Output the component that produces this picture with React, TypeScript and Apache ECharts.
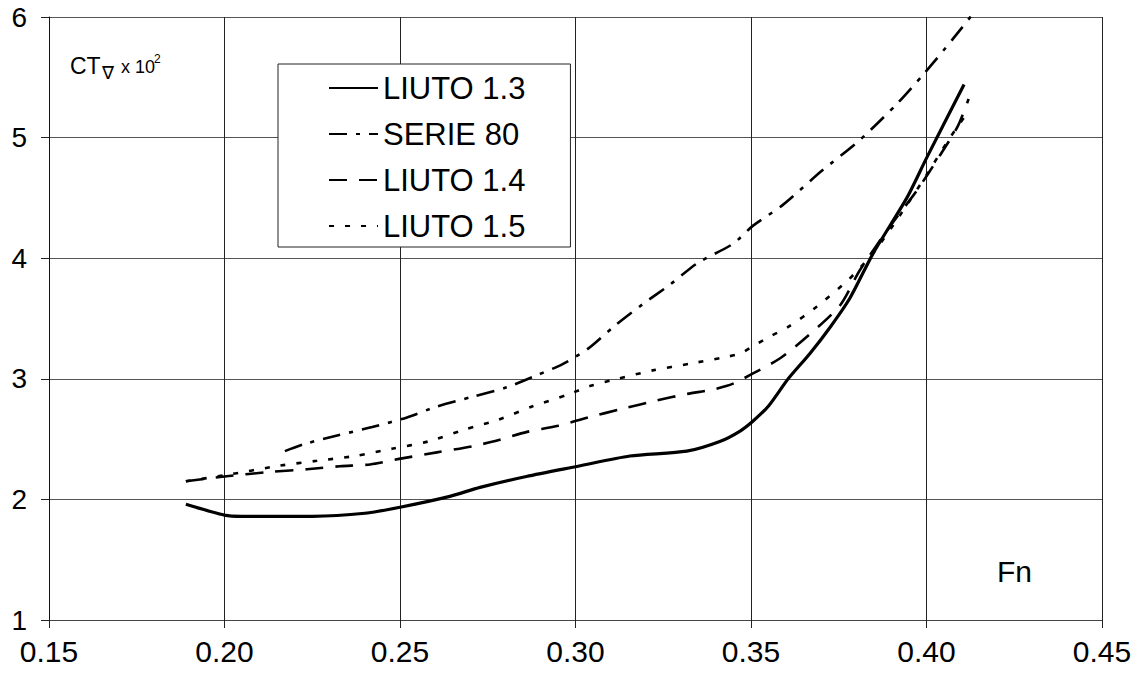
import React, { useEffect, useRef } from "react";
import * as echarts from "echarts";

const xTicks = [0.15, 0.2, 0.25, 0.3, 0.35, 0.4, 0.45];
const yTicks = [1, 2, 3, 4, 5, 6];

const liuto13: [number, number][] = [
  [0.189, 1.96], [0.2, 1.87], [0.205, 1.86], [0.225, 1.86], [0.24, 1.885], [0.25, 1.935],
  [0.2642, 2.025], [0.2728, 2.1], [0.286, 2.19], [0.3007, 2.275], [0.3155, 2.36], [0.3317, 2.4],
  [0.3411, 2.48], [0.3469, 2.567], [0.3506, 2.65], [0.355, 2.775], [0.3606, 3.0], [0.3668, 3.21],
  [0.3726, 3.43], [0.3782, 3.67], [0.3848, 4.04], [0.3944, 4.5], [0.4, 4.83], [0.4107, 5.44],
];

const serie80: [number, number][] = [
  [0.2172, 2.4], [0.2229, 2.46], [0.2321, 2.53], [0.2421, 2.6], [0.252, 2.68], [0.2605, 2.77],
  [0.2705, 2.85], [0.2805, 2.93], [0.289, 3.03], [0.2962, 3.12], [0.3036, 3.25], [0.3112, 3.44],
  [0.3192, 3.62], [0.3269, 3.78], [0.3348, 3.96], [0.3449, 4.12], [0.3506, 4.27], [0.359, 4.44],
  [0.37, 4.72], [0.381, 4.98], [0.3916, 5.28], [0.399, 5.52], [0.4073, 5.81], [0.4144, 6.07],
];

const liuto14: [number, number][] = [
  [0.189, 2.15], [0.2, 2.19], [0.2138, 2.23], [0.2235, 2.25], [0.2329, 2.275], [0.2415, 2.29],
  [0.2506, 2.34], [0.2605, 2.39], [0.2705, 2.44], [0.2765, 2.48], [0.2862, 2.56], [0.295, 2.61],
  [0.3036, 2.68], [0.3132, 2.75], [0.3231, 2.82], [0.3319, 2.875], [0.339, 2.91], [0.3449, 2.96],
  [0.3503, 3.04], [0.3583, 3.17], [0.366, 3.35], [0.3754, 3.61], [0.381, 3.9], [0.39, 4.28],
  [0.397, 4.55], [0.404, 4.86], [0.409, 5.1], [0.412, 5.32],
];

const liuto15: [number, number][] = [
  [0.189, 2.15], [0.2, 2.2], [0.2158, 2.28], [0.2263, 2.32], [0.2372, 2.36], [0.2477, 2.42],
  [0.258, 2.48], [0.2685, 2.58], [0.278, 2.66], [0.2876, 2.77], [0.2979, 2.87], [0.3041, 2.94],
  [0.3121, 3.0], [0.322, 3.07], [0.3326, 3.125], [0.3426, 3.18], [0.347, 3.21], [0.3511, 3.28],
  [0.356, 3.36], [0.3606, 3.43], [0.3688, 3.6], [0.3777, 3.82], [0.385, 4.05], [0.393, 4.38],
  [0.4, 4.69], [0.4067, 5.0], [0.412, 5.22],
];

const seriesNames = ["LIUTO 1.3", "SERIE 80", "LIUTO 1.4", "LIUTO 1.5"];

const FONT = "'Liberation Sans', Arial, Helvetica, sans-serif";

export default function App() {
  const ref = useRef<HTMLDivElement>(null);

  useEffect(() => {
    document.body.style.margin = "0";
    if (!ref.current) return;
    const chart = echarts.init(ref.current, undefined, { renderer: "svg" });

    const mk = (name: string, data: [number, number][], type: any, width: number) => ({
      name,
      type: "line",
      data,
      showSymbol: false,
      symbol: "none",
      smooth: 0.25,
      clip: true,
      lineStyle: { color: "#000", width, type, cap: "butt" },
      itemStyle: { color: "#000" },
      z: 3,
    });

    chart.setOption({
      animation: false,
      backgroundColor: "#fff",
      grid: { left: 49, right: 40, top: 17, bottom: 65, containLabel: false },
      xAxis: {
        type: "value",
        min: xTicks[0],
        max: xTicks[xTicks.length - 1],
        interval: 0.05,
        axisLine: { show: true, lineStyle: { color: "#444", width: 1 } },
        axisTick: { show: true, length: 8, lineStyle: { color: "#222" } },
        axisLabel: {
          color: "#000",
          fontSize: 30,
          fontFamily: FONT,
          margin: 16,
          formatter: (v: number) => v.toFixed(2),
        },
        splitLine: { show: true, lineStyle: { color: "#222", width: 1 } },
      },
      yAxis: {
        type: "value",
        min: yTicks[0],
        max: yTicks[yTicks.length - 1],
        interval: 1,
        axisLine: { show: true, lineStyle: { color: "#111", width: 1 } },
        axisTick: { show: true, length: 8, lineStyle: { color: "#222" } },
        axisLabel: { color: "#000", fontSize: 28, fontFamily: FONT, margin: 22 },
        splitLine: { show: true, lineStyle: { color: "#555", width: 1 } },
      },
      legend: {
        show: true,
        data: seriesNames,
        orient: "vertical",
        left: 278,
        top: 64,
        padding: [8, 45, 5, 50],
        itemWidth: 49,
        itemHeight: 20,
        itemGap: 14,
        itemTextGap: 8,
        backgroundColor: "#fff",
        borderColor: "#222",
        borderWidth: 1,
        borderRadius: 0,
        selectedMode: false,
        itemStyle: { color: "transparent", borderColor: "transparent", borderWidth: 0, opacity: 0 },
        textStyle: { color: "#000", fontSize: 31, fontFamily: FONT, lineHeight: 32 },
        z: 10,
      },
      graphic: [
        { type: "text", left: 70, top: 54, style: { text: "CT", fontSize: 23, fontFamily: FONT, fill: "#000" } },
        { type: "text", left: 102, top: 64, style: { text: "\u2207", fontSize: 18, fontFamily: FONT, fill: "#000" } },
        { type: "text", left: 121, top: 58, style: { text: "x 10", fontSize: 18, fontFamily: FONT, fill: "#000" } },
        { type: "text", left: 154, top: 53, style: { text: "2", fontSize: 12, fontFamily: FONT, fill: "#000" } },
        { type: "text", left: 997, top: 556, style: { text: "Fn", fontSize: 30, fontFamily: FONT, fill: "#000" } },
      ],
      series: [
        mk(seriesNames[0], liuto13, "solid", 3.2),
        mk(seriesNames[1], serie80, [18, 9, 4, 9], 2.6),
        mk(seriesNames[2], liuto14, [18, 12], 2.6),
        mk(seriesNames[3], liuto15, [5, 11], 2.6),
      ],
    });

    return () => chart.dispose();
  }, []);

  return <div ref={ref} style={{ width: 1142, height: 685 }} />;
}
